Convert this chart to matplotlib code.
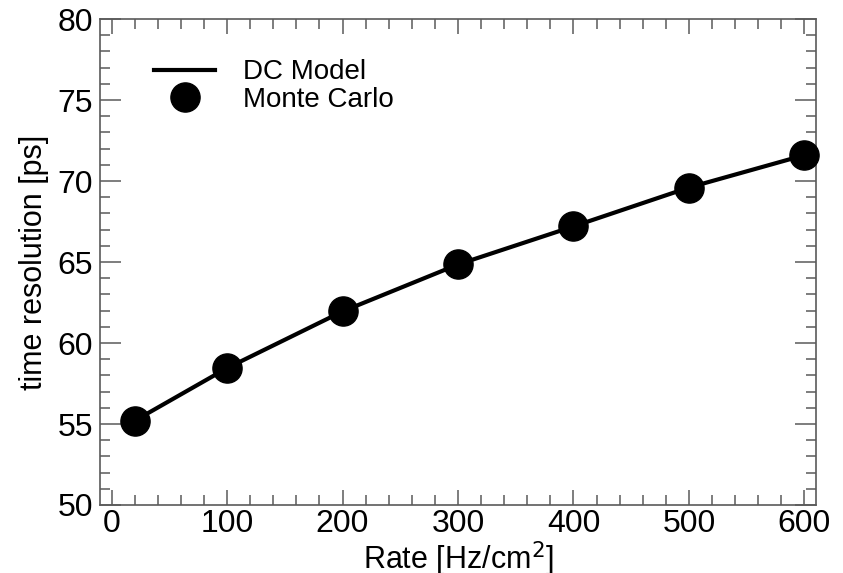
import matplotlib
matplotlib.use("Agg")
import matplotlib.pyplot as plt
from matplotlib.ticker import MultipleLocator

plt.rcParams['font.family'] = ['Liberation Sans', 'DejaVu Sans']

# rate scan: time resolution vs. rate
rate = [20, 100, 200, 300, 400, 500, 600]
dc_model = [55.2, 58.45, 61.95, 64.85, 67.2, 69.6, 71.6]
monte_carlo = [55.2, 58.45, 61.95, 64.85, 67.2, 69.6, 71.6]

fig = plt.figure(figsize=(8.43, 5.73), dpi=100)
ax = fig.add_axes([0.1186, 0.1187, 0.8494, 0.848])

ax.plot(rate, dc_model, color='black', lw=3, label='DC Model', zorder=2)
ax.plot(rate, monte_carlo, 'o', color='black', ms=21, ls='none',
        label='Monte Carlo', zorder=3, clip_on=False)

ax.set_xlim(-10, 610)
ax.set_ylim(50, 80)
ax.xaxis.set_major_locator(MultipleLocator(100))
ax.xaxis.set_minor_locator(MultipleLocator(20))
ax.yaxis.set_major_locator(MultipleLocator(5))
ax.yaxis.set_minor_locator(MultipleLocator(1))

grey = '#5a5a5a'
for s in ax.spines.values():
    s.set_color(grey)
    s.set_linewidth(1.2)
ax.tick_params(which='both', direction='in', top=True, right=True,
               color=grey, width=1.1, labelsize=23, labelcolor='black')
ax.tick_params(axis='y', which='major', length=15, pad=5)
ax.tick_params(axis='x', which='major', length=11, pad=3)
ax.tick_params(which='minor', length=7)

ax.set_xlabel('Rate [Hz/cm$^2$]', fontsize=22, labelpad=0)
ax.set_ylabel('time resolution [ps]', fontsize=22, labelpad=6)

ax.legend(loc='upper left', bbox_to_anchor=(0.06, 0.94), frameon=False,
          fontsize=20, handlelength=2.2, labelspacing=0.05,
          handletextpad=1.0, borderaxespad=0)

fig.savefig('out.png', dpi=100)
